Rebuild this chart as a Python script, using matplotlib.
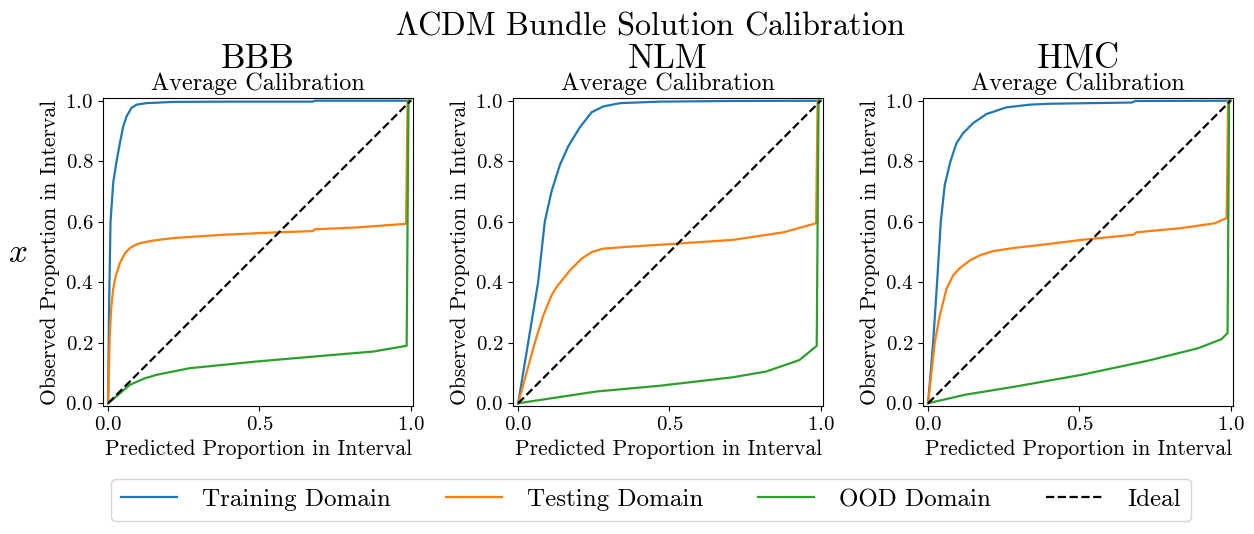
import matplotlib
matplotlib.use("Agg")
import matplotlib.pyplot as plt

plt.rcParams["font.family"] = "serif"
plt.rcParams["font.serif"] = ["cmr10"]
plt.rcParams["mathtext.fontset"] = "cm"
plt.rcParams["axes.formatter.use_mathtext"] = True

methods = ["BBB", "NLM", "HMC"]
labels = ["Training Domain", "Testing Domain", "OOD Domain"]
colors = ["tab:blue", "tab:orange", "tab:green"]

# calibration curves (predicted, observed)
bbb_train_x = [0, 0.003, 0.008, 0.017, 0.028, 0.039, 0.05, 0.061, 0.077, 0.094, 0.127, 0.215, 0.4, 0.677, 0.683, 1.0]
bbb_train_y = [0, 0.3, 0.6, 0.73, 0.8, 0.86, 0.915, 0.948, 0.976, 0.987, 0.992, 0.996, 0.997, 0.997, 1.0, 1.0]
bbb_test_x = [0, 0.003, 0.0055, 0.01, 0.0165, 0.025, 0.039, 0.055, 0.072, 0.09, 0.105, 0.15, 0.215, 0.38, 0.557, 0.677, 0.683, 0.82, 0.985, 0.99, 1.0]
bbb_test_y = [0, 0.12, 0.22, 0.31, 0.375, 0.42, 0.463, 0.495, 0.513, 0.523, 0.529, 0.538, 0.546, 0.557, 0.565, 0.569, 0.575, 0.581, 0.593, 1.0, 1.0]
bbb_ood_x = [0, 0.03, 0.072, 0.12, 0.16, 0.27, 0.49, 0.71, 0.877, 0.987, 0.993, 1.0]
bbb_ood_y = [0, 0.025, 0.061, 0.082, 0.094, 0.116, 0.138, 0.157, 0.171, 0.19, 1.0, 1.0]

nlm_train_x = [0, 0.033, 0.066, 0.088, 0.11, 0.138, 0.166, 0.204, 0.243, 0.281, 0.337, 0.469, 0.7, 1.0]
nlm_train_y = [0, 0.2, 0.4, 0.6, 0.699, 0.788, 0.85, 0.912, 0.962, 0.981, 0.992, 0.997, 0.999, 1.0]
nlm_test_x = [0, 0.055, 0.083, 0.11, 0.127, 0.171, 0.21, 0.243, 0.281, 0.359, 0.469, 0.71, 0.877, 0.985, 0.99, 1.0]
nlm_test_y = [0, 0.2, 0.29, 0.356, 0.384, 0.439, 0.478, 0.5, 0.511, 0.517, 0.524, 0.54, 0.565, 0.595, 1.0, 1.0]
nlm_ood_x = [0, 0.259, 0.469, 0.71, 0.82, 0.93, 0.987, 0.993, 1.0]
nlm_ood_y = [0, 0.039, 0.058, 0.086, 0.105, 0.143, 0.19, 1.0, 1.0]

hmc_train_x = [0, 0.0166, 0.0298, 0.042, 0.055, 0.074, 0.094, 0.116, 0.149, 0.193, 0.259, 0.337, 0.403, 0.673, 0.685, 1.0]
hmc_train_y = [0, 0.2, 0.4, 0.6, 0.721, 0.8, 0.86, 0.893, 0.926, 0.956, 0.978, 0.987, 0.99, 0.994, 0.999, 1.0]
hmc_test_x = [0, 0.022, 0.0386, 0.0607, 0.083, 0.105, 0.138, 0.171, 0.215, 0.281, 0.403, 0.507, 0.678, 0.689, 0.838, 0.948, 0.987, 0.992, 1.0]
hmc_test_y = [0, 0.2, 0.29, 0.378, 0.423, 0.447, 0.472, 0.489, 0.503, 0.513, 0.527, 0.54, 0.557, 0.565, 0.579, 0.595, 0.612, 1.0, 1.0]
hmc_ood_x = [0, 0.121, 0.287, 0.507, 0.728, 0.893, 0.97, 0.99, 0.995, 1.0]
hmc_ood_y = [0, 0.028, 0.055, 0.094, 0.141, 0.182, 0.212, 0.232, 1.0, 1.0]

curves = {
    "BBB": [(bbb_train_x, bbb_train_y), (bbb_test_x, bbb_test_y), (bbb_ood_x, bbb_ood_y)],
    "NLM": [(nlm_train_x, nlm_train_y), (nlm_test_x, nlm_test_y), (nlm_ood_x, nlm_ood_y)],
    "HMC": [(hmc_train_x, hmc_train_y), (hmc_test_x, hmc_test_y), (hmc_ood_x, hmc_ood_y)],
}

fig = plt.figure(figsize=(12.54, 5.34), dpi=100)
lefts = [0.0821, 0.4091, 0.7360]

handles = []
for i, m in enumerate(methods):
    ax = fig.add_axes([lefts[i], 0.2397, 0.2475, 0.5768])
    hs = []
    for (xs, ys), lab, c in zip(curves[m], labels, colors):
        h, = ax.plot(xs, ys, color=c, lw=1.6, label=lab)
        hs.append(h)
    h, = ax.plot([0, 1], [0, 1], "k--", lw=1.6, label="Ideal")
    hs.append(h)
    if i == 0:
        handles = hs
    ax.set_xlim(-0.017, 1.009)
    ax.set_ylim(-0.009, 1.009)
    ax.set_xticks([0, 0.5, 1.0])
    ax.set_yticks([0, 0.2, 0.4, 0.6, 0.8, 1.0])
    ax.tick_params(labelsize=15)
    ax.set_xlabel("Predicted Proportion in Interval", fontsize=15.5)
    ax.set_ylabel("Observed Proportion in Interval", fontsize=15.5)
    ax.set_title("Average Calibration", fontsize=17.5, pad=6)
    ax.text(0.5, 1.097, m, transform=ax.transAxes, ha="center", va="baseline", fontsize=25)

fig.text(0.519, 0.9345, r"$\Lambda$CDM Bundle Solution Calibration", ha="center", va="baseline", fontsize=23.3)
fig.text(0.0144, 0.526, r"$x$", ha="center", va="center", fontsize=24)

fig.legend(handles=handles, loc="center", bbox_to_anchor=(0.519, 0.064), ncol=4, fontsize=18,
           handlelength=2.25, handletextpad=1.0, columnspacing=2.2)

fig.savefig("out.png", dpi=100)
